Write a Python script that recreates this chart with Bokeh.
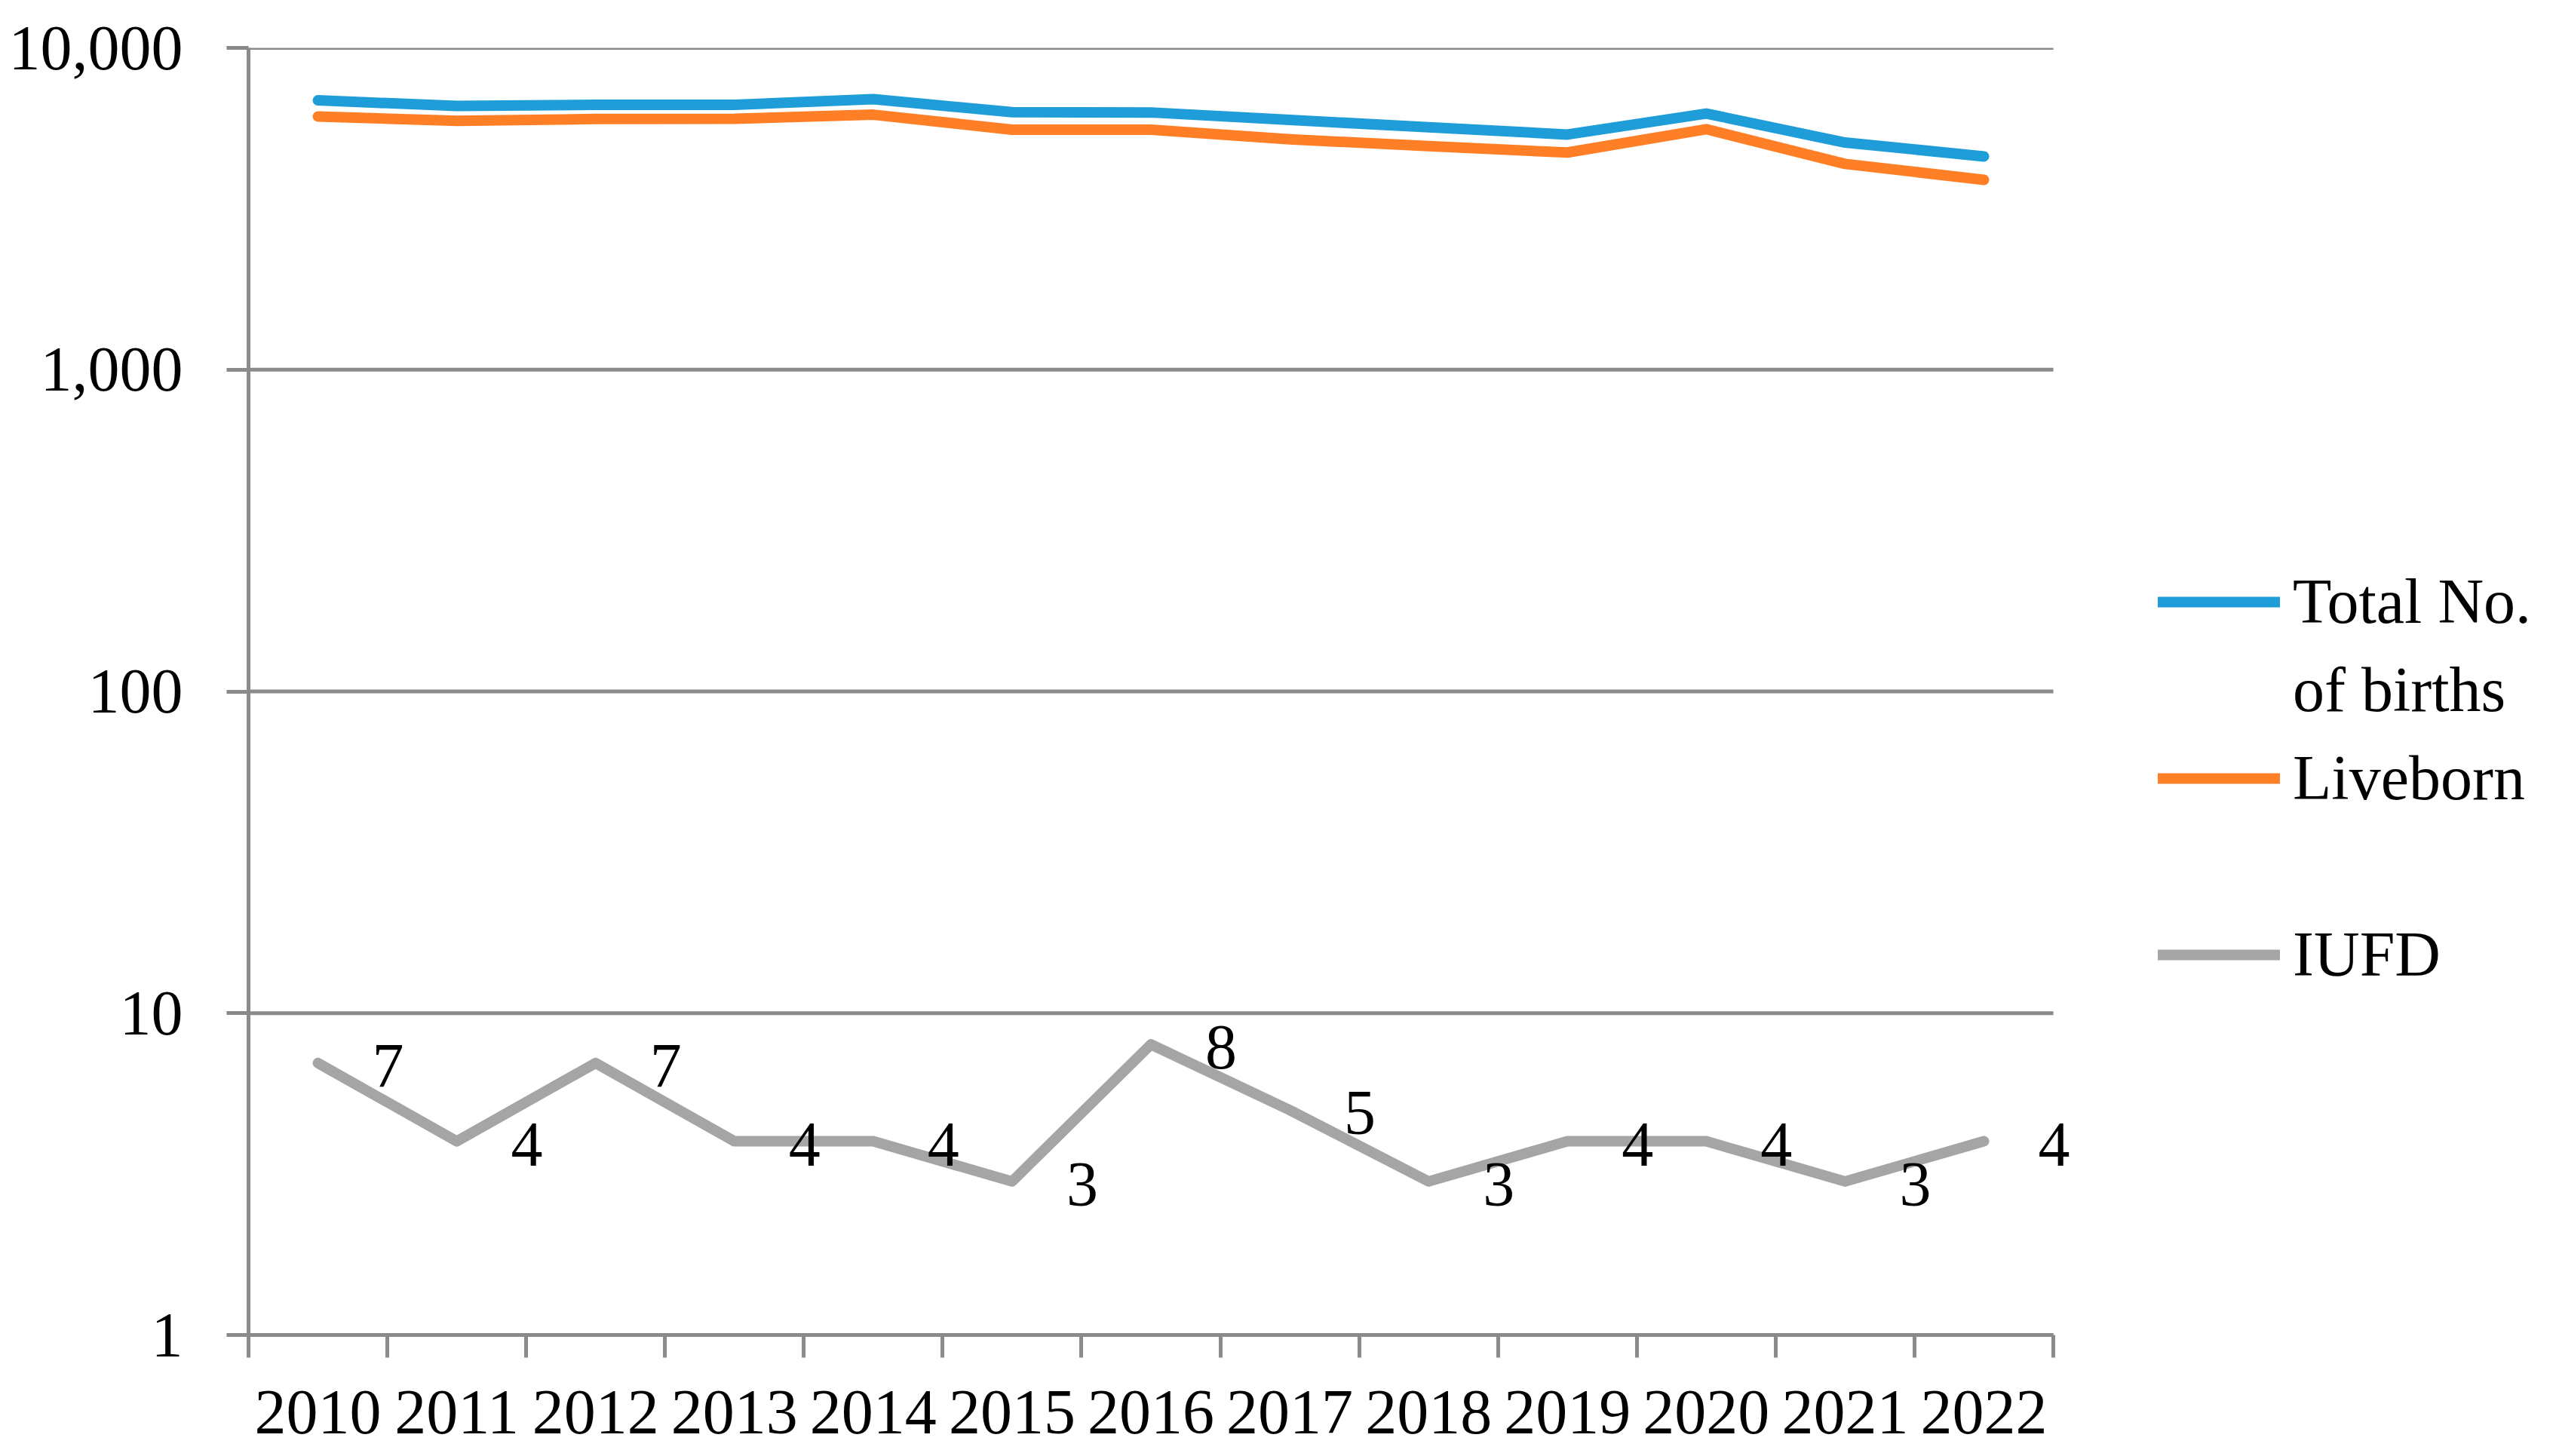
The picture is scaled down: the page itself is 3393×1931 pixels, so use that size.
import numpy as np
from bokeh.plotting import figure
from bokeh.models import (Range1d, FixedTicker, Legend, LegendItem, LabelSet,
                          ColumnDataSource, NumeralTickFormatter)
from bokeh.embed import file_html
from bokeh.resources import INLINE

years = ["2010", "2011", "2012", "2013", "2014", "2015", "2016",
         "2017", "2018", "2019", "2020", "2021", "2022"]
total_births = [6870, 6600, 6650, 6650, 6930, 6310, 6300, 5970, 5670, 5380, 6250, 5080, 4600]
liveborn = [6120, 5930, 6010, 6020, 6200, 5570, 5570, 5200, 4950, 4730, 5590, 4360, 3890]
iufd = [7, 4, 7, 4, 4, 3, 8, 5, 3, 4, 4, 3, 4]
y_ticks = [1, 10, 100, 1000, 10000]

FONT = "Liberation Serif"
FS = "84px"
AXIS_COLOR = "#8a8a8a"
BLUE = "#1F9DD9"
ORANGE = "#FF7F27"
GRAY = "#A5A5A5"

n = len(years)
xc = [i + 0.5 for i in range(n)]
boundaries = list(range(n + 1))

src = ColumnDataSource(dict(x=xc, total=total_births, live=liveborn, iufd=iufd,
                            lab=[str(v) for v in iufd]))
grid_src = ColumnDataSource(dict(x0=[0] * len(y_ticks), x1=[n] * len(y_ticks), y=y_ticks))

# frame extends to the right edge so the legend and the last data label are not clipped;
# one category = 184 px, so the x range runs past the last category
CAT_PX = 184.08
FRAME_W = 3056
p = figure(frame_width=FRAME_W, frame_height=1707,
           min_border_left=329, min_border_right=0, min_border_top=63, min_border_bottom=153,
           x_range=Range1d(0, FRAME_W / CAT_PX), y_range=Range1d(1, 10000), y_axis_type="log",
           output_backend="svg", toolbar_location=None)
p.outline_line_color = None
p.background_fill_color = "white"
p.border_fill_color = "white"

# x axis: labels at centres, tick marks at category boundaries
xa = p.xaxis[0]
xa.bounds = (0, n)
xa.ticker = FixedTicker(ticks=xc, minor_ticks=boundaries)
xa.major_label_overrides = {x: y for x, y in zip(xc, years)}
xa.major_tick_line_color = None
xa.major_tick_out = 0
xa.major_tick_in = 0
xa.minor_tick_line_color = AXIS_COLOR
xa.minor_tick_line_width = 5
xa.minor_tick_out = 30
xa.minor_tick_in = 0
xa.axis_line_color = AXIS_COLOR
xa.axis_line_width = 5
xa.major_label_text_font = FONT
xa.major_label_text_font_size = FS
xa.major_label_text_color = "black"
xa.major_label_standoff = 44

ya = p.yaxis[0]
ya.ticker = FixedTicker(ticks=y_ticks)
ya.formatter = NumeralTickFormatter(format="0,0")
ya.major_tick_line_color = AXIS_COLOR
ya.major_tick_line_width = 5
ya.major_tick_out = 29
ya.major_tick_in = 0
ya.minor_tick_line_color = None
ya.axis_line_color = AXIS_COLOR
ya.axis_line_width = 5
ya.major_label_text_font = FONT
ya.major_label_text_font_size = FS
ya.major_label_text_color = "black"
ya.major_label_standoff = 58

p.xgrid.visible = False
p.ygrid.visible = False
# horizontal gridlines limited to the category span
p.segment(x0="x0", x1="x1", y0="y", y1="y", source=grid_src,
          line_color=AXIS_COLOR, line_width=5)

r_total = p.line("x", "total", source=src, line_color=BLUE, line_width=14,
                 line_cap="round", line_join="round")
r_live = p.line("x", "live", source=src, line_color=ORANGE, line_width=14,
                line_cap="round", line_join="round")
r_iufd = p.line("x", "iufd", source=src, line_color=GRAY, line_width=14,
                line_cap="round", line_join="round")
r_blank = p.line("x", "total", source=src, line_alpha=0, line_width=14)

labels = LabelSet(x="x", y="iufd", text="lab", source=src, x_offset=93, y_offset=-4,
                  text_align="center", text_baseline="middle",
                  text_font=FONT, text_font_size=FS, text_color="black")
p.add_layout(labels)

legend = Legend(items=[
    LegendItem(label="Total No.", renderers=[r_total]),
    LegendItem(label="of births", renderers=[r_blank]),
    LegendItem(label="Liveborn", renderers=[r_live]),
    LegendItem(label=" ", renderers=[r_blank]),
    LegendItem(label="IUFD", renderers=[r_iufd]),
], location=(2532, 446))
legend.label_text_font = FONT
legend.label_text_font_size = FS
legend.label_text_color = "black"
legend.label_height = 117
legend.glyph_height = 40
legend.glyph_width = 162
legend.label_standoff = 17
legend.spacing = 0
legend.padding = 0
legend.margin = 0
legend.border_line_color = None
legend.background_fill_alpha = 0
legend.click_policy = "none"
p.add_layout(legend, "center")

open("out.html", "w").write(file_html(p, INLINE))
